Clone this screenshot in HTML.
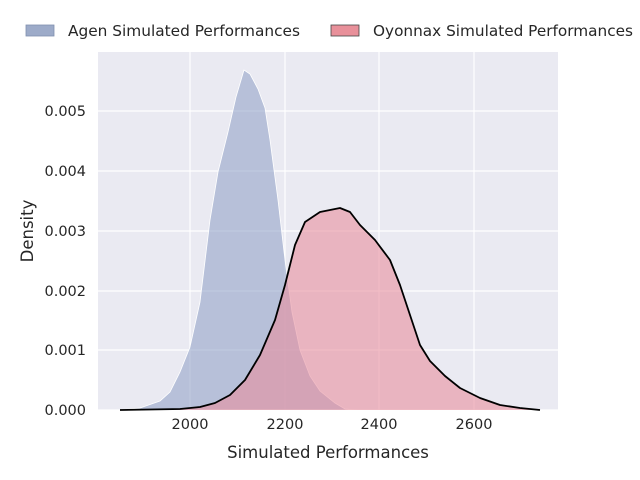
<!DOCTYPE html>
<html><head><meta charset="utf-8"><style>body{margin:0;background:#fff}svg{display:block}</style></head>
<body>
<svg width="640" height="480" xmlns="http://www.w3.org/2000/svg" font-family="'DejaVu Sans','Liberation Sans',sans-serif">
<rect x="98" y="52" width="460" height="358" fill="#eaeaf2"/>
<g stroke="#fff" stroke-width="1.2">
<line x1="190" y1="52" x2="190" y2="410"/><line x1="285" y1="52" x2="285" y2="410"/>
<line x1="379" y1="52" x2="379" y2="410"/><line x1="474" y1="52" x2="474" y2="410"/>
<line x1="98" y1="410" x2="558" y2="410"/><line x1="98" y1="350" x2="558" y2="350"/>
<line x1="98" y1="291" x2="558" y2="291"/><line x1="98" y1="231" x2="558" y2="231"/>
<line x1="98" y1="171" x2="558" y2="171"/><line x1="98" y1="111" x2="558" y2="111"/>
</g>
<path d="M120,410 L140,408 L160,401 L170,392 L180,372 L190,347 L200,302 L210,220 L218,172 L228,132 L236,97 L244,70 L250,74 L258,89 L265,108 L270,140 L278,200 L285,260 L292,312 L300,350 L310,376 L320,391 L335,403 L345,409 L360,410 Z" fill="#8c9dc5" fill-opacity="0.55" stroke="#fff" stroke-width="0.8"/>
<path d="M120,410 L180,409 L200,407 L215,403 L230,395 L245,380 L260,355 L275,320 L285,285 L295,245 L305,222 L320,212 L340,208 L350,212 L360,225 L375,240 L390,260 L400,285 L410,315 L420,345 L430,361 L445,376 L460,388 L480,398 L500,405 L520,408 L540,410 Z" fill="#e8909f" fill-opacity="0.6"/>
<path d="M120,410 L180,409 L200,407 L215,403 L230,395 L245,380 L260,355 L275,320 L285,285 L295,245 L305,222 L320,212 L340,208 L350,212 L360,225 L375,240 L390,260 L400,285 L410,315 L420,345 L430,361 L445,376 L460,388 L480,398 L500,405 L520,408 L540,410" fill="none" stroke="#000" stroke-width="1.8" stroke-linejoin="round"/>
<g font-size="14.5" fill="#262626">
<text x="190" y="429" text-anchor="middle">2000</text><text x="285" y="429" text-anchor="middle">2200</text>
<text x="379" y="429" text-anchor="middle">2400</text><text x="474" y="429" text-anchor="middle">2600</text>
<g text-anchor="end"><text x="86" y="415">0.000</text><text x="86" y="355">0.001</text><text x="86" y="296">0.002</text><text x="86" y="236">0.003</text><text x="86" y="176">0.004</text><text x="86" y="116">0.005</text></g>
</g>
<text x="328" y="458" text-anchor="middle" font-size="16.5" fill="#262626">Simulated Performances</text>
<text x="33" y="231" text-anchor="middle" font-size="16.5" fill="#262626" transform="rotate(-90 33 231)">Density</text>
<rect x="26" y="25" width="28" height="11" fill="#9dabc9" stroke="#8090b0" stroke-width="0.8"/>
<text x="68" y="36" font-size="15" fill="#262626" textLength="232" lengthAdjust="spacingAndGlyphs">Agen Simulated Performances</text>
<rect x="331" y="25" width="28" height="11" fill="#e8909a" stroke="#444" stroke-width="0.8"/>
<text x="373" y="36" font-size="15" fill="#262626" textLength="260" lengthAdjust="spacingAndGlyphs">Oyonnax Simulated Performances</text>
</svg>
</body></html>
